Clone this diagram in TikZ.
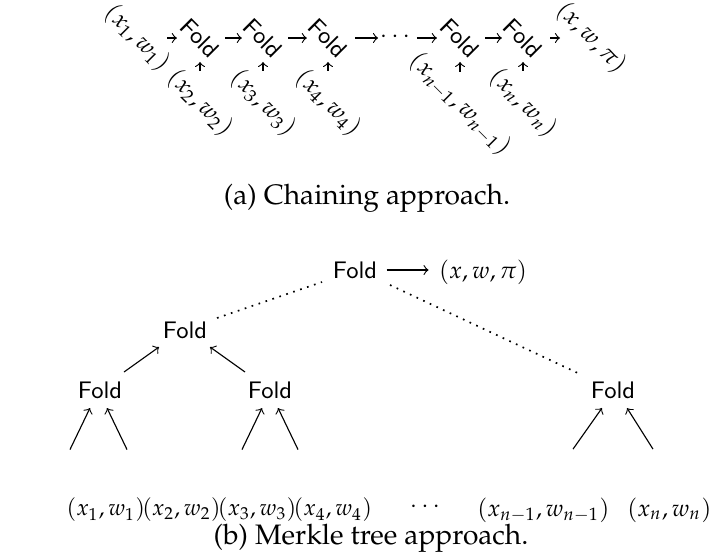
\documentclass[tikz,border=0pt]{standalone}
\usepackage[T1]{fontenc}
\usepackage{mathpazo}
\usetikzlibrary{calc}
\newcommand\foldfont{\fontencoding{TU}\fontfamily{lmss}\fontseries{m}\fontshape{n}}
\begin{document}
\begin{tikzpicture}[x=0.3552pt,y=-0.3552pt,
  fold/.style={font=\foldfont\fontsize{8.5}{10}\selectfont, inner sep=0pt},
  lbl/.style={font=\fontsize{8.4}{10}\selectfont, inner sep=0pt},
  leaf/.style={font=\fontsize{8.1}{10}\selectfont, inner sep=0pt, anchor=west},
  tilt/.style={rotate=-45},
  arr/.style={-to, line width=0.4pt},
  link/.style={arr, shorten <=9pt, shorten >=7.5pt},
  dots/.style={dotted, line width=0.6pt},
  captxt/.style={font=\fontsize{10}{12}\selectfont, inner sep=0pt}]
\useasboundingbox (0,0) rectangle (717,553);

% ---- (a) chain of folds ----
\node[lbl,tilt] (a1) at (137,38) {$(x_1,w_1)$};
\node[fold,tilt] (F1) at (200,38) {Fold};
\node[fold,tilt] (F2) at (263,38) {Fold};
\node[fold,tilt] (F3) at (328,38) {Fold};
\node[lbl] (dd) at (395,37) {$\cdots$};
\node[fold,tilt] (Fm) at (460,38) {Fold};
\node[fold,tilt] (Fn) at (523,38) {Fold};
\node[lbl,tilt] (out) at (591,38) {$(x,w,\pi)$};

\node[lbl,tilt] (b2) at (200,103) {$(x_2,w_2)$};
\node[lbl,tilt] (b3) at (263,103) {$(x_3,w_3)$};
\node[lbl,tilt] (b4) at (328,103) {$(x_4,w_4)$};
\node[lbl,tilt] (bm) at (460,104) {$(x_{n-1},w_{n-1})$};
\node[lbl,tilt] (bn) at (523,103) {$(x_n,w_n)$};

\draw[arr, shorten <=10.7pt, shorten >=8.2pt] (a1.center) -- (F1.center);
\draw[link] (F1.center) -- (F2.center);
\draw[link] (F2.center) -- (F3.center);
\draw[arr, shorten <=9.6pt, shorten >=6pt] (F3.center) -- (F3.center -| dd.center);
\draw[arr, shorten <=7.8pt, shorten >=8.2pt] (F3.center -| dd.center) -- (Fm.center);
\draw[link] (Fm.center) -- (Fn.center);
\draw[arr, shorten <=9.6pt, shorten >=11pt] (Fn.center) -- (out.center);

\foreach \b/\f in {b2/F1,b3/F2,b4/F3,bm/Fm,bn/Fn}
  \draw[arr, shorten <=11.5pt, shorten >=8.5pt] (\b.center) -- (\f.center);

\node[captxt] (capa) at (367,198) {(a) Chaining approach.};

% ---- (b) tree of folds ----
\node[fold] (T) at (355,270) {Fold};
\node[lbl] (Tout) at (483,272) {$(x,w,\pi)$};
\node[fold] (M) at (185,330) {Fold};
\node[fold] (L1) at (100,390) {Fold};
\node[fold] (L2) at (270,390) {Fold};
\node[fold] (R) at (613,390) {Fold};

\draw[arr, shorten <=3.2pt, shorten >=3.5pt] (T.east) -- (T.east -| Tout.west);
\draw[dots] ([shift={(32,-12)}]M.center) -- ([shift={(-33,12)}]T.center);
\draw[dots] ([shift={(35,15)}]T.center) -- ([shift={(-31,-15)}]R.center);
\draw[arr] ([shift={(24,-18)}]L1.center) -- ([shift={(-26,17)}]M.center);
\draw[arr] ([shift={(-25,-18)}]L2.center) -- ([shift={(25,17)}]M.center);

% leaves, set side by side
\node[leaf] (l1) at (66,510) {$(x_1,w_1)$};
\node[leaf] (l2) at ([xshift=-1.4pt]l1.east) {$(x_2,w_2)$};
\node[leaf] (l3) at ([xshift=-1.4pt]l2.east) {$(x_3,w_3)$};
\node[leaf] (l4) at ([xshift=-1.4pt]l3.east) {$(x_4,w_4)$};
\node[lbl] (ld) at (425,507) {$\cdots$};
\node[lbl, anchor=east] (lm) at (610,510) {$(x_{n-1},w_{n-1})$};
\node[lbl, anchor=east] (ln) at (712,510) {$(x_n,w_n)$};

\draw[arr] ($(L1.center |- l1.north)+(-30,-48)$) -- ([shift={(-10,18)}]L1.center);
\draw[arr] ($(L1.center |- l2.north)+(27,-48)$) -- ([shift={(7,18)}]L1.center);
\draw[arr] ($(L2.center |- l3.north)+(-28,-48)$) -- ([shift={(-8,18)}]L2.center);
\draw[arr] ($(L2.center |- l4.north)+(28,-48)$) -- ([shift={(8,18)}]L2.center);
\draw[arr] ($(R.center |- lm.north)+(-40,-48)$) -- ([shift={(-11,18)}]R.center);
\draw[arr] ($(R.center |- ln.north)+(40,-48)$) -- ([shift={(14,18)}]R.center);

\node[captxt] (capb) at (371,538) {(b) Merkle tree approach.};
\end{tikzpicture}
\end{document}
